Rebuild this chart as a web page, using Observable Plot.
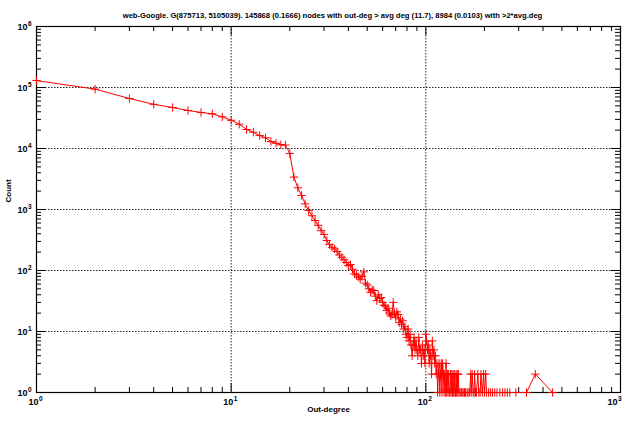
<!DOCTYPE html>
<html>
<head>
<meta charset="utf-8">
<script src="https://cdn.jsdelivr.net/npm/d3@7"></script>
<script src="https://cdn.jsdelivr.net/npm/@observablehq/plot@0.6"></script>
<style>
  html, body { margin: 0; padding: 0; background: #fff; }
  svg { display: block; }
</style>
</head>
<body>
<div id="chart"></div>
<script>
const titleText = "web-Google. G(875713, 5105039). 145868 (0.1666) nodes with out-deg > avg deg (11.7), 8984 (0.0103) with >2*avg.deg";
const xLabel = "Out-degree";
const yLabel = "Count";

const degree = [
  1,2,3,4,5,6,7,8,9,10,11,12,13,14,15,16,17,18,19,20,
  21,22,23,24,25,26,27,28,29,30,31,32,33,34,35,36,37,38,39,40,
  41,42,43,44,45,46,47,48,49,50,51,52,53,54,55,56,57,58,59,60,
  61,62,63,64,65,66,67,68,69,70,71,72,73,74,75,76,77,78,79,80,
  81,82,83,84,85,86,87,88,89,90,91,92,93,94,95,96,97,98,99,100,
  101,102,103,104,105,106,107,108,109,110,111,112,113,114,115,116,117,118,119,120,
  121,122,123,124,125,126,127,128,129,130,131,132,133,134,135,136,137,138,139,140,
  141,142,143,144,145,146,147,148,150,152,153,155,157,158,160,163,165,168,170,171,
  173,175,177,178,180,182,185,187,190,192,195,198,200,203,205,210,215,220,226,232,
  240,248,255,262,270,290,329,365,448
];
const count = [
  130000,94000,66000,53000,47000,42000,39000,37000,33000,29000,25000,20500,18500,16300,15000,13000,12200,11500,11400,8300,
  3400,2270,1700,1240,960,790,660,550,450,390,310,265,240,225,205,180,165,150,135,120,
  125,105,88,85,78,72,80,95,62,58,50,44,48,47,38,32,40,35,36,30,
  27,26,22,24,20,18,19,30,20,17,21,19,14,16,13,15,11,12,9,8,
  11,7,9,6,4,6,8,5,7,5,4,8,5,5,3,6,4,5,3,9,
  7,5,6,3,5,4,2,7,4,5,3,4,2,3,1,2,3,1,2,3,
  1,3,2,1,2,1,3,1,2,1,2,1,1,2,1,2,1,2,1,2,
  1,1,2,1,2,1,2,1,1,1,1,1,1,1,1,1,1,1,2,1,
  2,1,1,2,1,1,2,1,1,2,1,2,1,2,1,1,1,1,1,1,
  1,1,1,1,1,1,1,2,1
];

const xExponents = [0, 1, 2, 3];
const yExponents = [0, 1, 2, 3, 4, 5, 6];

const data = degree.map((d, i) => ({deg: d, cnt: count[i]}));

const W = 624, H = 421;
const ml = 36, mr = 4, mt = 26, mb = 29;
const fw = W - ml - mr, fh = H - mt - mb;
const font = "'Liberation Sans', Arial, Helvetica, sans-serif";

const xMajor = xExponents.map(e => 10 ** e);
const yMajor = yExponents.map(e => 10 ** e);
const xMinor = [], yMinor = [];
for (let e = 0; e < 3; e++) for (let k = 2; k <= 9; k++) xMinor.push(k * 10 ** e);
for (let e = 0; e < 6; e++) for (let k = 2; k <= 9; k++) yMinor.push(k * 10 ** e);
const xGrid = xMajor.slice(1, -1);
const yGrid = yMajor.slice(1, -1);

const majLen = 9, minLen = 5;
const tickStyle = {stroke: "#000", strokeWidth: 1};
const gridStyle = {stroke: "#000", strokeWidth: 1, strokeDasharray: "1.5,1.5", strokeOpacity: 0.85};

const chart = Plot.plot({
  width: W,
  height: H,
  marginLeft: ml,
  marginRight: mr,
  marginTop: mt,
  marginBottom: mb,
  style: {fontFamily: font, background: "#fff"},
  x: {type: "log", domain: [1, 1000], axis: null},
  y: {type: "log", domain: [1, 1e6], axis: null},
  marks: [
    Plot.ruleX(xGrid, gridStyle),
    Plot.ruleY(yGrid, gridStyle),
    Plot.ruleX(xMajor, {...tickStyle, insetTop: fh - majLen}),
    Plot.ruleX(xMinor, {...tickStyle, insetTop: fh - minLen}),
    Plot.ruleX(xMajor, {...tickStyle, insetBottom: fh - majLen}),
    Plot.ruleX(xMinor, {...tickStyle, insetBottom: fh - minLen}),
    Plot.ruleY(yMajor, {...tickStyle, insetRight: fw - majLen}),
    Plot.ruleY(yMinor, {...tickStyle, insetRight: fw - minLen}),
    Plot.ruleY(yMajor, {...tickStyle, insetLeft: fw - majLen}),
    Plot.ruleY(yMinor, {...tickStyle, insetLeft: fw - minLen}),
    Plot.frame({stroke: "#000", strokeWidth: 1.2}),
    Plot.line(data, {x: "deg", y: "cnt", stroke: "#ff0000", strokeWidth: 1}),
    Plot.dot(data, {x: "deg", y: "cnt", symbol: "plus", r: 2.8, stroke: "#ff0000", strokeWidth: 1}),
    Plot.text(xExponents.filter(e => e < 3), {x: e => 10 ** e, frameAnchor: "bottom", text: () => "10", textAnchor: "end", dx: 2, dy: 12,
      fontSize: 9, fontWeight: "bold", fill: "#000"}),
    Plot.text(xExponents.filter(e => e < 3), {x: e => 10 ** e, frameAnchor: "bottom", text: e => String(e), textAnchor: "start", dx: 2.5, dy: 8,
      fontSize: 6.5, fontWeight: "bold", fill: "#000"}),
    Plot.text(xExponents.filter(e => e === 3), {x: e => 10 ** e, frameAnchor: "bottom", text: () => "10", textAnchor: "end", dx: -3, dy: 12,
      fontSize: 9, fontWeight: "bold", fill: "#000"}),
    Plot.text(xExponents.filter(e => e === 3), {x: e => 10 ** e, frameAnchor: "bottom", text: e => String(e), textAnchor: "start", dx: -2.5, dy: 8,
      fontSize: 6.5, fontWeight: "bold", fill: "#000"}),
    Plot.text(yExponents, {y: e => 10 ** e, frameAnchor: "left", text: () => "10", textAnchor: "end", dx: -9, dy: 1,
      fontSize: 9, fontWeight: "bold", fill: "#000"}),
    Plot.text(yExponents, {y: e => 10 ** e, frameAnchor: "left", text: e => String(e), textAnchor: "start", dx: -8.5, dy: -3,
      fontSize: 6.5, fontWeight: "bold", fill: "#000"}),
    Plot.text([titleText], {frameAnchor: "top", text: d => d, dx: 4, dy: -14, fontSize: 7.6, fontWeight: "bold", fill: "#000"}),
    Plot.text([xLabel], {frameAnchor: "bottom", text: d => d, dy: 19, fontSize: 8, fontWeight: "bold", fill: "#000"}),
    Plot.text([yLabel], {frameAnchor: "left", text: d => d, dx: -28, dy: -7, rotate: -90, fontSize: 8, fontWeight: "bold", fill: "#000"})
  ]
});

document.getElementById("chart").appendChild(chart);
</script>
</body>
</html>
